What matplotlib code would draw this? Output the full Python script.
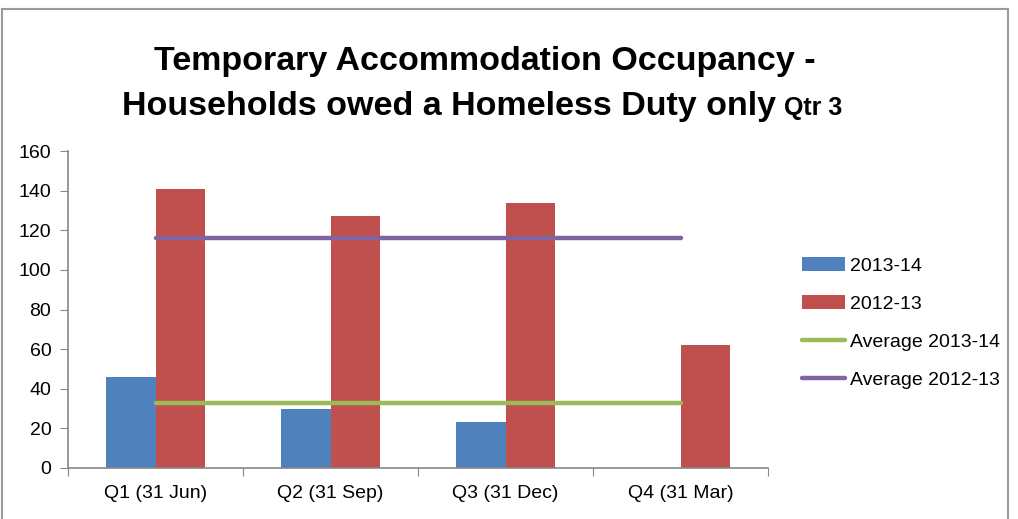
import matplotlib.pyplot as plt
from matplotlib.patches import Rectangle
import numpy as np

#%% Data
quarters = ['Q1 (31 Jun)', 'Q2 (31 Sep)', 'Q3 (31 Dec)', 'Q4 (31 Mar)']
occ_2013_14 = [46, 30, 23, np.nan]
occ_2012_13 = [141, 127, 134, 62]
avg_2013_14 = [33, 33, 33, 33]
avg_2012_13 = [116, 116, 116, 116]

BLUE = '#4F81BD'
RED = '#C0504D'
GREEN = '#9BBB59'
PURPLE = '#8064A2'
AXIS_GREY = '#868686'

plt.rcParams['font.family'] = ['Liberation Sans', 'DejaVu Sans']

#%% Build the plot
fig = plt.figure(figsize=(10.18, 5.19), dpi=100)
ax = fig.add_axes([68/1018, 1 - 468/519, 700/1018, 317/519])

x = np.arange(len(quarters))
w = 0.2857
b1 = ax.bar(x - w/2, occ_2013_14, w, color=BLUE, label='2013-14')
b2 = ax.bar(x + w/2, occ_2012_13, w, color=RED, label='2012-13')
l1, = ax.plot(x, avg_2013_14, color=GREEN, lw=3.2, solid_capstyle='round',
              label='Average 2013-14')
l2, = ax.plot(x, avg_2012_13, color=PURPLE, lw=3.2, solid_capstyle='round',
              label='Average 2012-13')

ax.set_xlim(-0.5, len(quarters) - 0.5)
ax.set_ylim(0, 160)
ax.set_yticks(range(0, 161, 20))

# category boundaries get the tick marks, centres get the labels
ax.set_xticks(np.arange(-0.5, len(quarters), 1))
ax.set_xticklabels([])
ax.set_xticks(x, minor=True)
ax.set_xticklabels(quarters, minor=True)
ax.tick_params(axis='x', which='major', direction='out', length=6,
               color=AXIS_GREY)
ax.tick_params(axis='x', which='minor', length=0, pad=12, labelsize=14)
ax.tick_params(axis='y', direction='out', length=6, color=AXIS_GREY,
               labelsize=14, pad=6)

for side in ['top', 'right']:
    ax.spines[side].set_visible(False)
for side in ['left', 'bottom']:
    ax.spines[side].set_color(AXIS_GREY)
    ax.spines[side].set_linewidth(1.2)

#%% Title
fig.text(485/1018, 1 - 70/519, 'Temporary Accommodation Occupancy -',
         ha='center', va='baseline', fontsize=24.5, fontweight='bold')
t2 = fig.text(122/1018, 1 - 115/519, 'Households owed a Homeless Duty only',
              ha='left', va='baseline', fontsize=24.5, fontweight='bold')
fig.canvas.draw()
ext = t2.get_window_extent()
fig.text((ext.x1 + 8)/1018, 1 - 115/519, 'Qtr 3', ha='left', va='baseline',
         fontsize=18, fontweight='bold')

#%% Legend
ax.legend([b1, b2, l1, l2],
          ['2013-14', '2012-13', 'Average 2013-14', 'Average 2012-13'],
          loc='upper left', bbox_to_anchor=(802/1018, 1 - 257/519),
          bbox_transform=fig.transFigure, frameon=False, fontsize=14,
          handlelength=2.2, handletextpad=0.25, labelspacing=1.05,
          borderpad=0, borderaxespad=0)

#%% Chart border
fig.patches.append(Rectangle((2/1018, -0.1), 1006/1018, 1.1 - 9/519,
                             transform=fig.transFigure, fill=False,
                             edgecolor='#9A9A9A', lw=1.5))

plt.savefig('out.png', dpi=100)
